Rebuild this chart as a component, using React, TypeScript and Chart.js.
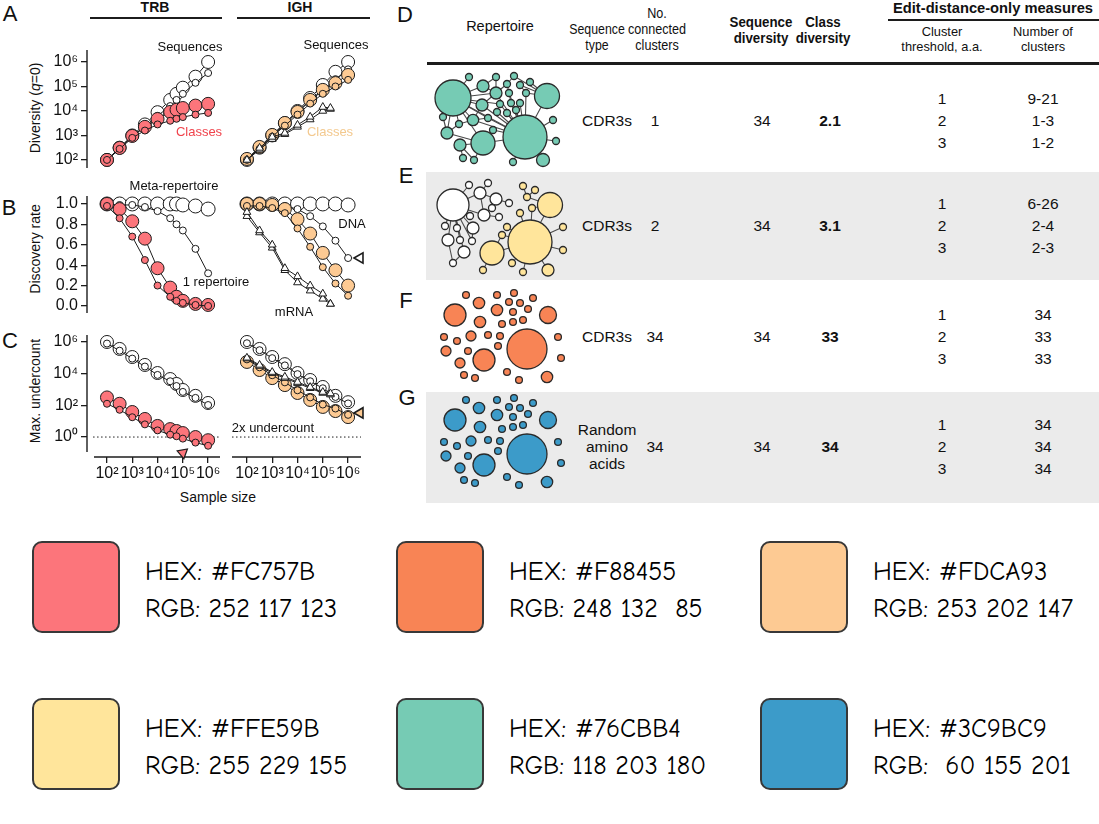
import React, { useEffect, useRef } from "react";
import { Chart, registerables } from "chart.js";
Chart.register(...registerables);

const FONT = "'Liberation Sans', Arial, Helvetica, sans-serif";
const INK = "#1c1c1c";
const RED = "#FC757B";
const PEACH = "#FDCA93";
const WHITE = "#ffffff";

// ---------- Panels A–C : sample sizes ----------
const TRB_SIZES = [100, 316, 1000, 3162, 10000, 31623, 56234, 100000, 316228, 1000000];
const IGH_SIZES = [100, 316, 1000, 3162, 10000, 31623, 100000, 316228, 1000000];
const MRNA_SIZES = [100, 316, 1000, 3162, 10000, 31623, 100000, 200000];
const X_TICKS = [100, 1000, 10000, 100000, 1000000];

// A: diversity (log10)
const A_TRB_SEQ_BIG = [2.0, 2.5, 3.0, 3.45, 3.95, 4.45, 4.7, 4.95, 5.4, 6.0];
const A_TRB_SEQ_SMALL = [2.0, 2.45, 2.95, 3.35, 3.8, 4.2, 4.45, 4.7, 5.15, 5.55];
const A_TRB_CLS_BIG = [2.0, 2.49, 2.98, 3.35, 3.67, 3.96, 4.05, 4.12, 4.22, 4.29];
const A_TRB_CLS_SMALL = [2.0, 2.45, 2.9, 3.2, 3.45, 3.6, 3.68, 3.75, 3.85, 3.92];
const A_IGH_SEQ_BIG = [2.0, 2.5, 3.0, 3.5, 4.0, 4.53, 5.06, 5.6, 6.0];
const A_IGH_SEQ_SMALL = [2.0, 2.45, 2.95, 3.45, 3.95, 4.4, 4.85, 5.3, 5.7];
const A_IGH_CLS_BIG = [2.04, 2.53, 3.02, 3.51, 3.96, 4.45, 4.86, 5.14, 5.47];
const A_IGH_CLS_SMALL = [2.0, 2.45, 2.95, 3.4, 3.85, 4.3, 4.7, 5.0, 5.27];
const A_IGH_MRNA_1 = [2.0, 2.49, 2.94, 3.1, 3.43, 3.76, 4.16, 4.12];
const A_IGH_MRNA_2 = [2.0, 2.42, 2.85, 3.05, 3.35, 3.65, 4.0, 4.08];
const A_Y_TICKS = [100, 1000, 10000, 100000, 1000000];

// B: discovery rate
const B_TRB_META = [1.0, 1.0, 1.0, 1.0, 1.0, 1.0, 1.0, 0.99, 0.98, 0.95];
const B_TRB_ONE = [1.0, 0.99, 0.99, 0.97, 0.93, 0.86, 0.8, 0.74, 0.56, 0.32];
const B_TRB_CLS_BIG = [1.0, 0.95, 0.83, 0.66, 0.37, 0.18, 0.09, 0.05, 0.02, 0.01];
const B_TRB_CLS_SMALL = [0.98, 0.86, 0.68, 0.45, 0.2, 0.09, 0.05, 0.03, 0.01, 0.0];
const B_IGH_META = [1.0, 1.0, 1.0, 1.0, 1.0, 1.0, 1.0, 1.0, 0.99];
const B_IGH_DNA = [1.0, 1.0, 0.99, 0.98, 0.95, 0.88, 0.78, 0.64, 0.47];
const B_IGH_CLS_BIG = [1.0, 1.0, 0.99, 0.95, 0.85, 0.71, 0.52, 0.35, 0.2];
const B_IGH_CLS_SMALL = [0.98, 0.98, 0.96, 0.91, 0.76, 0.58, 0.38, 0.22, 0.1];
const B_IGH_MRNA_1 = [0.92, 0.74, 0.6, 0.37, 0.29, 0.2, 0.12, 0.02];
const B_IGH_MRNA_2 = [0.88, 0.72, 0.57, 0.35, 0.23, 0.15, 0.07, 0.02];
const B_Y_TICKS = [0, 0.2, 0.4, 0.6, 0.8, 1.0];

// C: max. undercount (log10)
const C_TRB_SEQ_BIG = [6.0, 5.56, 5.05, 4.55, 4.04, 3.66, 3.35, 2.97, 2.6, 2.15];
const C_TRB_SEQ_SMALL = [5.9, 5.45, 4.95, 4.45, 3.92, 3.52, 3.22, 2.85, 2.47, 2.02];
const C_TRB_CLS_BIG = [2.5, 2.1, 1.58, 1.14, 0.7, 0.5, 0.38, 0.25, 0.0, -0.2];
const C_TRB_CLS_SMALL = [2.1, 1.72, 1.25, 0.8, 0.42, 0.15, 0.05, -0.1, -0.35, -0.55];
const C_IGH_SEQ_BIG = [6.0, 5.56, 5.05, 4.6, 4.04, 3.6, 3.16, 2.6, 2.2];
const C_IGH_SEQ_SMALL = [5.92, 5.48, 4.98, 4.52, 3.97, 3.52, 3.08, 2.53, 2.12];
const C_IGH_CLS_BIG = [4.74, 4.23, 3.72, 3.28, 2.78, 2.34, 1.9, 1.64, 1.26];
const C_IGH_CLS_SMALL = [4.9, 4.4, 3.9, 3.45, 2.95, 2.5, 2.05, 1.8, 1.4];
const C_IGH_MRNA_1 = [5.0, 4.55, 4.1, 3.8, 3.47, 3.15, 2.84, 2.75];
const C_IGH_MRNA_2 = [4.95, 4.48, 4.03, 3.72, 3.4, 3.08, 2.78, 2.68];
const C_Y_TICKS = [1, 100, 10000, 1000000];
const UNDERCOUNT_LOG = [0, 0];

// annotation arrowheads (sample size, value)
const B_IGH_ARROW = { x: [2950000], y: [0.47] };
const C_TRB_ARROW = { x: [100000], y: [-1.0] };
const C_IGH_ARROW = { x: [2950000], y: [1.52] };

// ---------- Panels D–G : cluster networks ----------
const D_X = [23, 117, 95, 53, 53, 52, 66, 43, 17, 30, 113, 39, 66, 84, 77, 90, 100, 79, 96, 81, 70, 90, 58, 63, 13, 29, 123, 126, 33, 44, 83, 77, 67, 86];
const D_Y = [36, 34, 75, 81, 24, 43, 31, 58, 71, 83, 98, 15, 15, 14, 22, 23, 20, 31, 31, 41, 42, 41, 56, 68, 55, 62, 58, 79, 96, 98, 100, 51, 50, 48];
const D_R = [18, 12.5, 22, 12, 6, 6, 6, 5.7, 6, 6, 6.5, 3.5, 3.5, 3.5, 3.5, 3.5, 3.5, 3.5, 3.5, 3.5, 3.5, 3.5, 3.5, 3.5, 3.5, 3.5, 3.5, 3.5, 3.5, 3.5, 3.5, 3.5, 3.5, 3.5];
const D_EDGES = [
  [0, 4], [0, 5], [0, 11], [0, 7], [0, 24], [0, 25], [0, 8], [0, 3], [0, 6], [0, 20], [0, 22], [0, 2],
  [2, 7], [2, 22], [2, 23], [2, 5], [2, 20], [2, 19], [2, 21], [2, 32], [2, 31], [2, 33], [2, 26], [2, 27],
  [2, 10], [2, 30], [2, 3], [2, 1], [2, 17], [2, 18], [2, 6],
  [1, 16], [1, 15], [1, 18], [1, 13],
  [4, 12], [6, 12], [6, 14], [14, 13], [5, 6], [4, 6], [17, 14], [17, 19], [15, 18], [3, 9], [9, 28],
  [9, 29], [3, 29], [8, 24], [8, 25], [25, 7], [7, 22], [3, 23], [5, 7], [8, 3],
];

const E_X = [23, 50, 66, 54, 43, 18, 34, 39, 58, 79, 69, 40, 15, 27, 30, 23, 42, 62, 100, 120, 62, 118, 93, 105, 97, 102, 90, 77, 72, 133, 133, 53, 82, 93];
const E_Y = [35, 23, 29, 45, 58, 70, 82, 15, 13, 33, 47, 46, 56, 58, 70, 93, 71, 38, 72, 35, 83, 100, 16, 20, 27, 38, 43, 57, 65, 57, 80, 100, 93, 102];
const E_R = [16, 6, 6, 6, 6, 6, 6, 3.5, 3.5, 3.5, 3.5, 3.5, 3.5, 3.5, 3.5, 3.5, 3.5, 3.5, 22, 12.5, 12, 6, 3.5, 3.5, 3.5, 3.5, 3.5, 3.5, 3.5, 3.5, 3.5, 3.5, 3.5, 3.5];
const E_GROUP = [0, 0, 0, 0, 0, 0, 0, 0, 0, 0, 0, 0, 0, 0, 0, 0, 0, 0, 1, 1, 1, 1, 1, 1, 1, 1, 1, 1, 1, 1, 1, 1, 1, 1];
const E_EDGES = [
  [0, 7], [0, 1], [0, 3], [0, 4], [0, 11], [0, 12], [0, 13], [0, 5], [0, 14], [0, 6], [0, 16], [1, 8], [1, 2],
  [2, 9], [3, 10], [3, 17], [2, 17], [6, 15], [5, 15], [4, 16], [1, 3],
  [18, 26], [18, 27], [18, 28], [18, 20], [18, 19], [18, 29], [18, 30], [18, 21], [18, 32], [18, 33], [18, 25],
  [19, 24], [19, 25], [24, 22], [24, 23], [20, 31], [20, 28],
];

const FG_X = [25, 118, 97, 54, 49, 50, 67, 41, 16, 30, 117, 36, 67, 84, 79, 90, 103, 83, 98, 93, 83, 72, 58, 70, 68, 14, 27, 38, 128, 131, 34, 45, 77, 89];
const FG_Y = [33, 33, 67, 78, 21, 40, 28, 54, 69, 81, 95, 13, 13, 11, 20, 21, 16, 30, 27, 38, 40, 42, 53, 54, 64, 55, 59, 69, 55, 76, 93, 96, 90, 98];
const FG_R = [11, 8.5, 20, 11, 5.7, 5.7, 5.7, 5, 5, 5, 5.7, 3.4, 3.4, 3.4, 3.4, 3.4, 3.4, 3.4, 3.4, 3.4, 3.4, 3.4, 3.4, 3.4, 3.4, 3.4, 3.4, 3.4, 3.4, 3.4, 3.4, 3.4, 3.4, 3.4];

// ---------- Table ----------
const ROW_TYPES = ["CDR3s", "CDR3s", "CDR3s", "Random\namino\nacids"];
const ROW_CONNECTED = ["1", "2", "34", "34"];
const ROW_SEQ_DIV = ["34", "34", "34", "34"];
const ROW_CLASS_DIV = ["2.1", "3.1", "33", "34"];
const THRESHOLDS = ["1", "2", "3"];
const ROW_CLUSTERS = [
  ["9-21", "1-3", "1-2"],
  ["6-26", "2-4", "2-3"],
  ["34", "33", "33"],
  ["34", "34", "34"],
];

// ---------- Palette ----------
const SW_HEX = ["#FC757B", "#F88455", "#FDCA93", "#FFE59B", "#76CBB4", "#3C9BC9"];
const SW_RGB = ["252 117 123", "248 132  85", "253 202 147", "255 229 155", "118 203 180", " 60 155 201"];

// ---------- helpers ----------
const SUP: Record<string, string> = { "0": "⁰", "1": "¹", "2": "²", "3": "³", "4": "⁴", "5": "⁵", "6": "⁶", "-": "⁻" };
const powLabel = (v: number) =>
  "10" + String(Math.round(Math.log10(v))).split("").map((c) => SUP[c]).join("");

const axisLinesPlugin = {
  id: "axisLines",
  beforeDatasetsDraw(chart: any, _a: any, o: any) {
    if (!o) return;
    const { ctx, chartArea: a } = chart;
    ctx.save();
    ctx.strokeStyle = INK;
    ctx.lineWidth = 1.4;
    if (o.y) {
      ctx.beginPath();
      ctx.moveTo(a.left, a.top);
      ctx.lineTo(a.left, a.bottom - (o.yCut || 0));
      ctx.stroke();
    }
    if (o.x) {
      ctx.beginPath();
      ctx.moveTo(a.left + (o.xCut || 0), a.bottom);
      ctx.lineTo(a.right, a.bottom);
      ctx.stroke();
    }
    ctx.restore();
  },
};

type S = {
  xs: number[]; ys: number[]; log?: boolean; fill?: string; r: number; shape?: string;
  order: number; line?: boolean; dash?: number[]; rot?: number; bw?: number;
};
function ds(s: S) {
  return {
    type: "line",
    data: s.xs.map((x, i) => ({ x, y: s.log ? Math.pow(10, s.ys[i]) : s.ys[i] })),
    showLine: s.line !== false,
    borderColor: INK,
    borderWidth: 1,
    borderDash: s.dash || [],
    pointRadius: s.r,
    pointHoverRadius: s.r,
    pointStyle: s.shape || "circle",
    pointRotation: s.rot || 0,
    pointBackgroundColor: s.fill || WHITE,
    pointBorderColor: INK,
    pointBorderWidth: s.bw ?? 1,
    fill: false,
    tension: 0,
    clip: false,
    order: s.order,
  };
}

const tickFont = { family: FONT, size: 16 };

function panel(o: {
  datasets: any[]; xmin: number; xmax: number; xShow: boolean; yLog: boolean; ymin: number; ymax: number;
  yTicks: number[]; yShow: boolean; padL: number; padB: number; lines: any;
}) {
  return {
    type: "line",
    data: { datasets: o.datasets },
    options: {
      responsive: false,
      animation: false,
      events: [],
      layout: { autoPadding: false, padding: { left: o.padL, right: 10, top: 14, bottom: o.padB } },
      plugins: { legend: { display: false }, tooltip: { enabled: false }, axisLines: o.lines },
      scales: {
        x: {
          type: "logarithmic",
          min: o.xmin,
          max: o.xmax,
          bounds: "data",
          display: o.xShow,
          afterBuildTicks: (s: any) => { s.ticks = X_TICKS.map((v) => ({ value: v })); },
          afterFit: (s: any) => { if (o.xShow) s.height = 30; },
          ticks: { callback: (v: any) => powLabel(Number(v)), font: tickFont, color: "#111", padding: 1, maxRotation: 0, autoSkip: false },
          grid: { drawOnChartArea: false, drawTicks: true, tickLength: 6, color: INK, lineWidth: 1.3 },
          border: { display: false },
        },
        y: {
          type: o.yLog ? "logarithmic" : "linear",
          min: o.ymin,
          max: o.ymax,
          bounds: "data",
          display: o.yShow,
          afterBuildTicks: (s: any) => { s.ticks = o.yTicks.map((v) => ({ value: v })); },
          afterFit: (s: any) => { if (o.yShow) s.width = 50; },
          ticks: {
            callback: (v: any) => (o.yLog ? powLabel(Number(v)) : Number(v).toFixed(1)),
            font: tickFont, color: "#111", padding: 3, autoSkip: false,
          },
          grid: { drawOnChartArea: false, drawTicks: true, tickLength: 6, color: INK, lineWidth: 1.3 },
          border: { display: false },
        },
      },
    },
    plugins: [axisLinesPlugin],
  };
}

function network(xs: number[], ys: number[], rs: number[], colors: string | string[], edges: number[][], w: number, h: number) {
  const datasets: any[] = [
    {
      type: "bubble",
      data: xs.map((x, i) => ({ x, y: ys[i], r: rs[i] })),
      backgroundColor: colors,
      borderColor: "#2a2a2a",
      borderWidth: 1.3,
      clip: false,
      order: 0,
    },
  ];
  edges.forEach(([a, b]) =>
    datasets.push({
      type: "line",
      data: [{ x: xs[a], y: ys[a] }, { x: xs[b], y: ys[b] }],
      borderColor: "#4a4a4a",
      borderWidth: 1.1,
      pointRadius: 0,
      clip: false,
      order: 1,
    })
  );
  return {
    type: "bubble",
    data: { datasets },
    options: {
      responsive: false,
      animation: false,
      events: [],
      layout: { autoPadding: false, padding: 0 },
      plugins: { legend: { display: false }, tooltip: { enabled: false } },
      scales: {
        x: { type: "linear", min: 0, max: w, display: false },
        y: { type: "linear", min: 0, max: h, reverse: true, display: false },
      },
    },
  };
}

function ChartBox({ left, top, width, height, config }: any) {
  const ref = useRef<HTMLCanvasElement>(null);
  useEffect(() => {
    const c = new Chart(ref.current as HTMLCanvasElement, config);
    return () => c.destroy();
  }, []);
  return (
    <canvas ref={ref} width={width} height={height}
      style={{ position: "absolute", left, top, width, height }} />
  );
}

function T({ x, y, children, size = 13, bold = false, italic = false, color = "#111", align = "center", rotate = 0, lh = 1.2, family = FONT, sx = 1 }: any) {
  const tx = align === "center" ? "-50%" : align === "right" ? "-100%" : "0";
  return (
    <div
      style={{
        position: "absolute", left: x, top: y,
        transform: `translate(${tx},-50%)` + (rotate ? ` rotate(${rotate}deg)` : "") + (sx !== 1 ? ` scaleX(${sx})` : ""),
        fontFamily: family, fontSize: size, fontWeight: bold ? 700 : 400, fontStyle: italic ? "italic" : "normal",
        color, whiteSpace: "pre", textAlign: align, lineHeight: lh, userSelect: "none",
      }}
    >
      {children}
    </div>
  );
}

const P = (e: number) => Math.pow(10, e);
const TRB_X = [P(1.21), P(6.47)];
const IGH_X = [P(1.41), P(6.51)];
const TRB_DOT_X = [P(1.45), P(6.47)];
const IGH_DOT_X = [P(1.41), P(6.51)];

export default function App() {
  const aTrb = panel({
    datasets: [
      ds({ xs: TRB_SIZES, ys: A_TRB_CLS_SMALL, log: true, fill: RED, r: 3.5, order: 0 }),
      ds({ xs: TRB_SIZES, ys: A_TRB_CLS_BIG, log: true, fill: RED, r: 6.5, order: 1 }),
      ds({ xs: TRB_SIZES, ys: A_TRB_SEQ_SMALL, log: true, fill: WHITE, r: 3.5, order: 2 }),
      ds({ xs: TRB_SIZES, ys: A_TRB_SEQ_BIG, log: true, fill: WHITE, r: 6.5, order: 3 }),
    ],
    xmin: TRB_X[0], xmax: TRB_X[1], xShow: false, yLog: true, ymin: P(1.67), ymax: P(6.49),
    yTicks: A_Y_TICKS, yShow: true, padL: 0, padB: 14, lines: { y: true },
  });
  const aIgh = panel({
    datasets: [
      ds({ xs: MRNA_SIZES, ys: A_IGH_MRNA_1, log: true, fill: WHITE, r: 4.5, shape: "triangle", order: 0 }),
      ds({ xs: MRNA_SIZES, ys: A_IGH_MRNA_2, log: true, fill: WHITE, r: 4.5, shape: "triangle", order: 1 }),
      ds({ xs: IGH_SIZES, ys: A_IGH_CLS_SMALL, log: true, fill: PEACH, r: 3.5, order: 2 }),
      ds({ xs: IGH_SIZES, ys: A_IGH_CLS_BIG, log: true, fill: PEACH, r: 6.5, order: 3 }),
      ds({ xs: IGH_SIZES, ys: A_IGH_SEQ_SMALL, log: true, fill: WHITE, r: 3.5, order: 4 }),
      ds({ xs: IGH_SIZES, ys: A_IGH_SEQ_BIG, log: true, fill: WHITE, r: 6.5, order: 5 }),
    ],
    xmin: IGH_X[0], xmax: IGH_X[1], xShow: false, yLog: true, ymin: P(1.67), ymax: P(6.49),
    yTicks: A_Y_TICKS, yShow: false, padL: 10, padB: 14, lines: {},
  });
  const bTrb = panel({
    datasets: [
      ds({ xs: TRB_SIZES, ys: B_TRB_CLS_SMALL, fill: RED, r: 3.5, order: 0 }),
      ds({ xs: TRB_SIZES, ys: B_TRB_CLS_BIG, fill: RED, r: 6.5, order: 1 }),
      ds({ xs: TRB_SIZES, ys: B_TRB_ONE, fill: WHITE, r: 3.5, order: 2 }),
      ds({ xs: TRB_SIZES, ys: B_TRB_META, fill: WHITE, r: 7, order: 3 }),
    ],
    xmin: TRB_X[0], xmax: TRB_X[1], xShow: false, yLog: false, ymin: -0.069, ymax: 1.078,
    yTicks: B_Y_TICKS, yShow: true, padL: 0, padB: 14, lines: { y: true },
  });
  const bIgh = panel({
    datasets: [
      ds({ xs: B_IGH_ARROW.x, ys: B_IGH_ARROW.y, fill: WHITE, r: 6, shape: "triangle", rot: 270, line: false, bw: 1.6, order: 0 }),
      ds({ xs: MRNA_SIZES, ys: B_IGH_MRNA_1, fill: WHITE, r: 4.5, shape: "triangle", order: 1 }),
      ds({ xs: MRNA_SIZES, ys: B_IGH_MRNA_2, fill: WHITE, r: 4.5, shape: "triangle", order: 2 }),
      ds({ xs: IGH_SIZES, ys: B_IGH_CLS_SMALL, fill: PEACH, r: 3.5, order: 3 }),
      ds({ xs: IGH_SIZES, ys: B_IGH_CLS_BIG, fill: PEACH, r: 6.5, order: 4 }),
      ds({ xs: IGH_SIZES, ys: B_IGH_DNA, fill: WHITE, r: 3.5, order: 5 }),
      ds({ xs: IGH_SIZES, ys: B_IGH_META, fill: WHITE, r: 7, order: 6 }),
    ],
    xmin: IGH_X[0], xmax: IGH_X[1], xShow: false, yLog: false, ymin: -0.069, ymax: 1.078,
    yTicks: B_Y_TICKS, yShow: false, padL: 10, padB: 14, lines: {},
  });
  const cTrb = panel({
    datasets: [
      ds({ xs: C_TRB_ARROW.x, ys: C_TRB_ARROW.y, log: true, fill: RED, r: 6, shape: "triangle", rot: 290, line: false, bw: 1.2, order: 0 }),
      ds({ xs: TRB_SIZES, ys: C_TRB_CLS_SMALL, log: true, fill: RED, r: 3.5, order: 1 }),
      ds({ xs: TRB_SIZES, ys: C_TRB_CLS_BIG, log: true, fill: RED, r: 6.5, order: 2 }),
      ds({ xs: TRB_SIZES, ys: C_TRB_SEQ_SMALL, log: true, fill: WHITE, r: 3.5, order: 3 }),
      ds({ xs: TRB_SIZES, ys: C_TRB_SEQ_BIG, log: true, fill: WHITE, r: 6.5, order: 4 }),
      ds({ xs: TRB_DOT_X, ys: UNDERCOUNT_LOG, log: true, r: 0, dash: [1.5, 2.5], order: 5 }),
    ],
    xmin: TRB_X[0], xmax: TRB_X[1], xShow: true, yLog: true, ymin: P(-1.26), ymax: P(6.44),
    yTicks: C_Y_TICKS, yShow: true, padL: 0, padB: 4, lines: { y: true, yCut: 5, x: true, xCut: 7 },
  });
  const cIgh = panel({
    datasets: [
      ds({ xs: C_IGH_ARROW.x, ys: C_IGH_ARROW.y, log: true, fill: PEACH, r: 6, shape: "triangle", rot: 270, line: false, bw: 1.6, order: 0 }),
      ds({ xs: MRNA_SIZES, ys: C_IGH_MRNA_1, log: true, fill: WHITE, r: 4.5, shape: "triangle", order: 1 }),
      ds({ xs: MRNA_SIZES, ys: C_IGH_MRNA_2, log: true, fill: WHITE, r: 4.5, shape: "triangle", order: 2 }),
      ds({ xs: IGH_SIZES, ys: C_IGH_CLS_SMALL, log: true, fill: PEACH, r: 3.5, order: 3 }),
      ds({ xs: IGH_SIZES, ys: C_IGH_CLS_BIG, log: true, fill: PEACH, r: 6.5, order: 4 }),
      ds({ xs: IGH_SIZES, ys: C_IGH_SEQ_SMALL, log: true, fill: WHITE, r: 3.5, order: 5 }),
      ds({ xs: IGH_SIZES, ys: C_IGH_SEQ_BIG, log: true, fill: WHITE, r: 6.5, order: 6 }),
      ds({ xs: IGH_DOT_X, ys: UNDERCOUNT_LOG, log: true, r: 0, dash: [1.5, 2.5], order: 7 }),
    ],
    xmin: IGH_X[0], xmax: IGH_X[1], xShow: true, yLog: true, ymin: P(-1.26), ymax: P(6.44),
    yTicks: C_Y_TICKS, yShow: false, padL: 10, padB: 4, lines: { x: true },
  });

  const netD = network(D_X, D_Y, D_R, "#76CBB4", D_EDGES, 140, 110);
  const netE = network(E_X, E_Y, E_R, E_GROUP.map((g) => (g ? "#FFE59B" : WHITE)), E_EDGES, 140, 110);
  const netF = network(FG_X, FG_Y, FG_R, "#F88455", [], 140, 105);
  const netG = network(FG_X, FG_Y, FG_R, "#3C9BC9", [], 140, 110);

  const rowCenters = [121, 226, 337, 447];

  return (
    <div style={{ position: "absolute", left: 0, top: 0, width: 1099, height: 824, background: "#fff", overflow: "hidden", fontFamily: FONT }}>
      {/* panel letters */}
      <T x={10} y={14} size={22}>A</T>
      <T x={9} y={208} size={22}>B</T>
      <T x={10} y={341} size={22}>C</T>
      <T x={405} y={15} size={22}>D</T>
      <T x={406} y={176} size={22}>E</T>
      <T x={406} y={301} size={22}>F</T>
      <T x={407} y={398} size={22}>G</T>

      {/* TRB / IGH headers */}
      <T x={155} y={7} size={14} bold>TRB</T>
      <T x={300} y={7} size={14} bold>IGH</T>
      <div style={{ position: "absolute", left: 90, top: 17, width: 132, height: 1.5, background: INK }} />
      <div style={{ position: "absolute", left: 237, top: 17, width: 133, height: 1.5, background: INK }} />

      {/* axis titles */}
      <T x={35} y={108} size={14} rotate={-90}>Diversity (<i>q</i>=0)</T>
      <T x={35} y={249} size={14} rotate={-90}>Discovery rate</T>
      <T x={35} y={391} size={14} rotate={-90}>Max. undercount</T>
      <T x={218} y={497} size={14}>Sample size</T>

      <ChartBox left={37} top={36} width={193} height={146} config={aTrb} />
      <ChartBox left={222} top={36} width={149} height={146} config={aIgh} />
      <ChartBox left={37} top={182} width={193} height={145} config={bTrb} />
      <ChartBox left={222} top={182} width={149} height={145} config={bIgh} />
      <ChartBox left={37} top={321} width={193} height={170} config={cTrb} />
      <ChartBox left={222} top={321} width={149} height={170} config={cIgh} />

      {/* in-plot labels */}
      <T x={190} y={47} size={13}>Sequences</T>
      <T x={199} y={132} size={13} color="#f0434c">Classes</T>
      <T x={336} y={45} size={13}>Sequences</T>
      <T x={330} y={132} size={13} color="#f3c98f">Classes</T>
      <T x={174} y={186} size={13}>Meta-repertoire</T>
      <T x={216} y={282} size={13}>1 repertoire</T>
      <T x={352} y={224} size={13}>DNA</T>
      <T x={294} y={312} size={13}>mRNA</T>
      <T x={273} y={428} size={13}>2x undercount</T>

      {/* table bands */}
      <div style={{ position: "absolute", left: 426, top: 172, width: 673, height: 108, background: "#ebebeb" }} />
      <div style={{ position: "absolute", left: 426, top: 392, width: 673, height: 111, background: "#ebebeb" }} />

      {/* table header */}
      <T x={500} y={27} size={14.5}>Repertoire</T>
      <T x={597} y={37} size={14} lh={1.15} sx={0.88}>{"Sequence\ntype"}</T>
      <T x={657} y={29} size={14} lh={1.15} sx={0.9}>{"No.\nconnected\nclusters"}</T>
      <T x={761} y={30} size={14} bold lh={1.15} sx={0.95}>{"Sequence\ndiversity"}</T>
      <T x={823} y={30} size={14} bold lh={1.15} sx={0.95}>{"Class\ndiversity"}</T>
      <T x={993} y={9} size={14.7} bold>Edit-distance-only measures</T>
      <div style={{ position: "absolute", left: 888, top: 19, width: 211, height: 2, background: INK }} />
      <T x={942} y={40} size={13.5} lh={1.1} sx={0.95}>{"Cluster\nthreshold, a.a."}</T>
      <T x={1043} y={40} size={13.5} lh={1.1} sx={0.95}>{"Number of\nclusters"}</T>
      <div style={{ position: "absolute", left: 427, top: 62, width: 672, height: 2.5, background: INK }} />

      {/* networks */}
      <ChartBox left={430} top={62} width={140} height={110} config={netD} />
      <ChartBox left={430} top={170} width={140} height={110} config={netE} />
      <ChartBox left={430} top={282} width={140} height={105} config={netF} />
      <ChartBox left={430} top={387} width={140} height={110} config={netG} />

      {/* table rows */}
      {rowCenters.map((cy, i) => (
        <React.Fragment key={i}>
          <T x={607} y={cy} size={15.5} lh={1.1}>{ROW_TYPES[i]}</T>
          <T x={655} y={cy} size={15.5}>{ROW_CONNECTED[i]}</T>
          <T x={762} y={cy} size={15.5}>{ROW_SEQ_DIV[i]}</T>
          <T x={830} y={cy} size={15.5} bold>{ROW_CLASS_DIV[i]}</T>
          {THRESHOLDS.map((t, j) => (
            <React.Fragment key={j}>
              <T x={942} y={cy + (j - 1) * 22} size={15.5}>{t}</T>
              <T x={1043} y={cy + (j - 1) * 22} size={15.5}>{ROW_CLUSTERS[i][j]}</T>
            </React.Fragment>
          ))}
        </React.Fragment>
      ))}

      {/* palette */}
      {SW_HEX.map((hex, i) => {
        const col = i % 3;
        const row = Math.floor(i / 3);
        const left = 32 + col * 364;
        const top = 541 + row * 157;
        const ff = "'Comic Sans MS', 'Comic Neue', 'Noto Sans', sans-serif";
        return (
          <React.Fragment key={hex}>
            <div style={{ position: "absolute", left, top, width: 88, height: 92, boxSizing: "border-box", background: hex, border: "2.5px solid #383838", borderRadius: 10 }} />
            <T x={left + 113} y={top + 32} size={26} align="left" family={ff} color="#000">{"HEX: " + hex}</T>
            <T x={left + 113} y={top + 69} size={26} align="left" family={ff} color="#000">{"RGB: " + SW_RGB[i]}</T>
          </React.Fragment>
        );
      })}
    </div>
  );
}
